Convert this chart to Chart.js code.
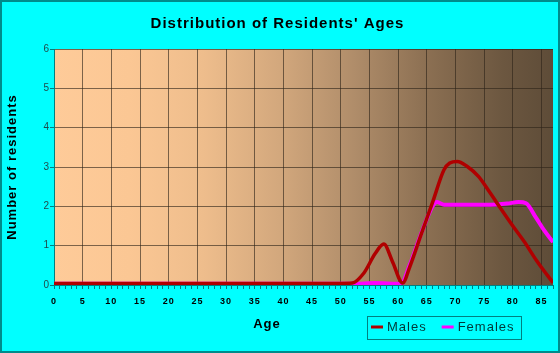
<!DOCTYPE html>
<html>
<head>
<meta charset="utf-8">
<title>Distribution of Residents' Ages</title>
<script src="https://cdn.jsdelivr.net/npm/chart.js"></script>
<style>
  body { margin: 0; background: #fff; }
  canvas { display: block; }
</style>
</head>
<body>
<canvas id="myChart" width="560" height="353"></canvas>
<script>
// values
const maleAges = [0, 50, 52, 54, 56, 57.5, 59, 60.8, 62, 64, 66, 68, 69, 70.3, 72, 74, 76, 78, 80, 82, 84, 86, 87]
const males    = [0.04, 0.04, 0.05, 0.3, 0.8, 1.04, 0.6, 0.05, 0.45, 1.28, 2.1, 2.93, 3.1, 3.14, 3.02, 2.76, 2.35, 1.92, 1.5, 1.1, 0.65, 0.25, 0.06]

const femaleAges = [0, 52, 56, 60.5, 62, 64, 66, 66.8, 68, 72, 76, 79, 81, 82.3, 84, 85.5, 87]
const females    = [0.03, 0.03, 0.05, 0.03, 0.5, 1.3, 2.0, 2.11, 2.04, 2.04, 2.04, 2.07, 2.11, 2.08, 1.72, 1.38, 1.09]

const xTicks = [0, 87]
const yTicks = [0, 6]

const fuente = '"Liberation Sans", Arial, sans-serif'
const colorGrid = 'rgba(45,35,25,0.62)'
const teal = '#008080'

function puntos(edades, valores){
  let datos = []
  for (let i=0; i<edades.length; i++){
    datos[i] = {x: edades[i], y: valores[i]}
  }
  return datos
}

const fondo = {
  id: 'fondo',
  beforeDraw(chart){
    const ctx = chart.ctx
    const a = chart.chartArea
    ctx.letterSpacing = '1px'
    ctx.save()
    ctx.fillStyle = '#00ffff'
    ctx.fillRect(0, 0, chart.width, chart.height)
    ctx.strokeStyle = '#008b8b'
    ctx.lineWidth = 2
    ctx.strokeRect(1, 1, chart.width - 2, chart.height - 2)
    const grad = ctx.createLinearGradient(a.left, 0, a.right, 0)
    grad.addColorStop(0, '#fecb99')
    grad.addColorStop(0.15, '#fbc794')
    grad.addColorStop(0.3, '#eebd8c')
    grad.addColorStop(0.45, '#d3a87d')
    grad.addColorStop(0.6, '#b08d6a')
    grad.addColorStop(0.75, '#8b6f52')
    grad.addColorStop(0.9, '#6c5740')
    grad.addColorStop(1, '#5e4c38')
    ctx.fillStyle = grad
    ctx.fillRect(a.left, a.top, a.right - a.left, a.bottom - a.top)
    ctx.restore()
  }
}

const leyenda = {
  id: 'leyenda',
  afterDraw(chart){
    const ctx = chart.ctx
    ctx.save()
    ctx.font = 'bold 13px ' + fuente
    ctx.fillStyle = '#000'
    ctx.textAlign = 'center'
    ctx.textBaseline = 'middle'
    ctx.fillText('Age', 267, 324.5)

    ctx.strokeStyle = teal
    ctx.lineWidth = 1
    ctx.strokeRect(367.5, 316.5, 154, 23)
    ctx.font = '13px ' + fuente
    ctx.textAlign = 'left'
    let x = 371
    chart.data.datasets.forEach(ds => {
      ctx.strokeStyle = ds.borderColor
      ctx.lineWidth = 3
      ctx.beginPath()
      ctx.moveTo(x, 327)
      ctx.lineTo(x + 12, 327)
      ctx.stroke()
      ctx.fillStyle = '#003838'
      ctx.fillText(ds.label, x + 16, 327.5)
      x += 16 + ctx.measureText(ds.label).width + 15
    })
    ctx.restore()
  }
}

const $grafica = document.getElementById('myChart')

const myChart = new Chart($grafica, {
  type: 'line',
  data: {
    datasets: [{
      label: 'Males',
      data: puntos(maleAges, males),
      borderColor: '#b00000',
      borderWidth: 3.5,
      pointRadius: 0,
      cubicInterpolationMode: 'monotone'
    }, {
      label: 'Females',
      data: puntos(femaleAges, females),
      borderColor: '#ff00ff',
      borderWidth: 4,
      pointRadius: 0,
      cubicInterpolationMode: 'monotone'
    }]
  },
  options: {
    responsive: false,
    animation: false,
    layout: { padding: { left: 0, right: 5, top: 0, bottom: 0 } },
    plugins: {
      legend: { display: false },
      tooltip: { enabled: false },
      title: {
        display: true,
        text: "Distribution of Residents' Ages",
        color: '#000',
        font: { family: fuente, size: 15, weight: 'bold' },
        padding: { top: 15, bottom: 16 }
      }
    },
    scales: {
      x: {
        type: 'linear',
        min: xTicks[0],
        max: xTicks[1],
        afterFit(scale){ scale.height = 68 },
        ticks: {
          stepSize: 1,
          autoSkip: false,
          maxRotation: 0,
          color: '#000',
          font: { family: fuente, size: 9, weight: 'bold' },
          padding: 7,
          callback: v => v % 5 === 0 ? v : ''
        },
        grid: {
          color: c => c.tick && c.tick.value % 5 === 0 ? colorGrid : 'rgba(0,0,0,0)',
          tickColor: teal,
          tickLength: 4
        },
        border: { color: teal }
      },
      y: {
        min: yTicks[0],
        max: yTicks[1],
        afterFit(scale){ scale.width = 54 },
        ticks: {
          stepSize: 1,
          color: '#1f4a4a',
          font: { family: fuente, size: 10 },
          padding: 0
        },
        grid: { color: colorGrid, tickColor: teal, tickLength: 4 },
        border: { color: teal },
        title: {
          display: true,
          text: 'Number of residents',
          color: '#000',
          font: { family: fuente, size: 13, weight: 'bold' },
          padding: { top: 5, bottom: 0 }
        }
      }
    }
  },
  plugins: [fondo, leyenda]
})
</script>
</body>
</html>
